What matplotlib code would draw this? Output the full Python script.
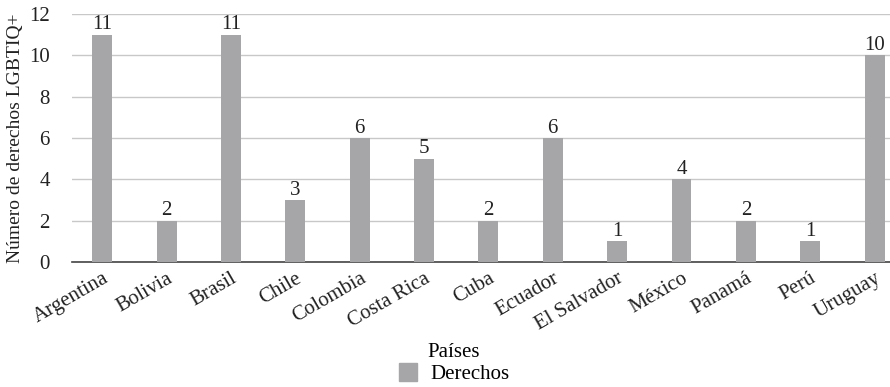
import matplotlib.pyplot as plt
from matplotlib.patches import Patch

paises = ["Argentina", "Bolivia", "Brasil", "Chile", "Colombia", "Costa Rica",
          "Cuba", "Ecuador", "El Salvador", "México", "Panamá", "Perú", "Uruguay"]
derechos = [11, 2, 11, 3, 6, 5, 2, 6, 1, 4, 2, 1, 10]
yticks = [0, 2, 4, 6, 8, 10, 12]

plt.rcParams['font.family'] = ['Liberation Serif', 'DejaVu Serif']
bar_color = "#a6a6a8"
txt = "#222222"

fig = plt.figure(figsize=(8.9, 3.87), dpi=100)
ax = fig.add_axes([0.081, 0.323, 0.919, 0.641])

x = list(range(len(paises)))
bars = ax.bar(x, derechos, width=0.31, color=bar_color, zorder=3)
for b, v in zip(bars, derechos):
    ax.text(b.get_x() + b.get_width() / 2, v + 0.02, str(v),
            ha="center", va="bottom", fontsize=15, color=txt)

ax.set_xlim(-0.47, 12.24)
ax.set_ylim(0, 12)
ax.set_yticks(yticks)
ax.set_yticklabels([str(t) for t in yticks], fontsize=15, color=txt)
ax.set_xticks(x)
ax.set_xticklabels(paises, rotation=30, ha="right", rotation_mode="anchor",
                   fontsize=15, color=txt)
ax.tick_params(axis="y", length=0, pad=16)
ax.tick_params(axis="x", length=0, pad=5)
ax.grid(axis="y", color="#c8c8c8", linewidth=1, zorder=0)
for s in ["top", "right", "left"]:
    ax.spines[s].set_visible(False)
ax.spines["bottom"].set_color("#444444")
ax.spines["bottom"].set_linewidth(1.2)
ax.set_ylabel("Número de derechos LGBTIQ+", fontsize=14, color=txt, labelpad=4)

fig.legend(handles=[Patch(color=bar_color, label="Derechos")], title="Países",
           loc="center", bbox_to_anchor=(0.51, 0.06), frameon=False,
           fontsize=15, title_fontsize=15, handlelength=0.9, handleheight=0.9,
           handletextpad=0.6, borderpad=0.1, labelspacing=0.05)

fig.savefig("out.png", dpi=100)
